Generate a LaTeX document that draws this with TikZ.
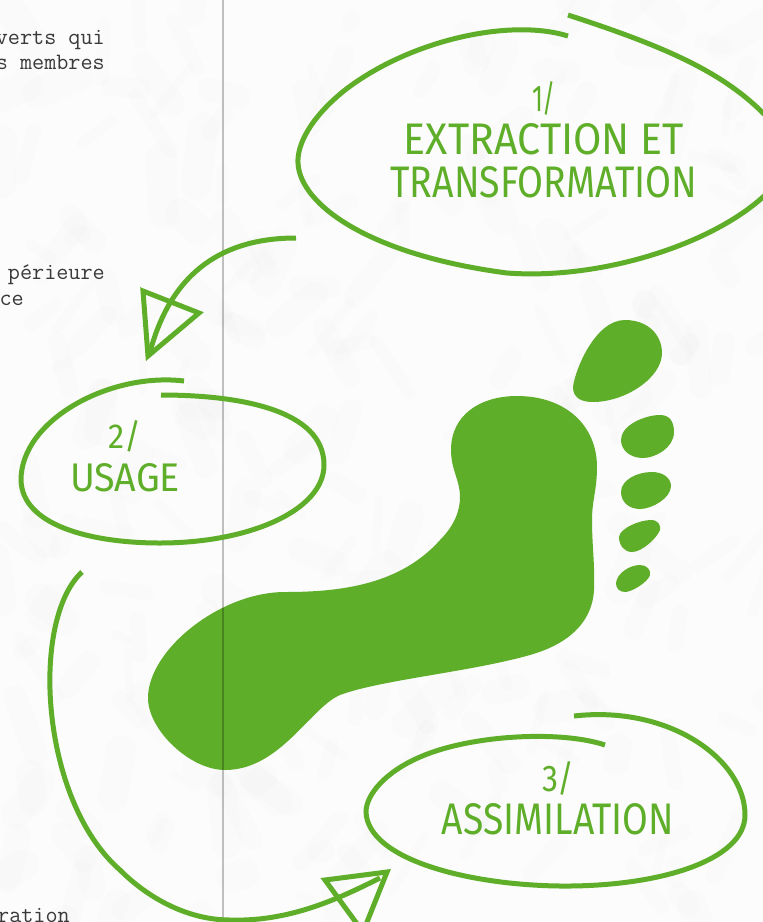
\documentclass[tikz,border=0pt]{standalone}
\usepackage{fontspec}
\newfontfamily\handfont{Fira Sans}
\definecolor{leaf}{HTML}{5FAE29}
\definecolor{ink}{HTML}{3A3A3A}
\tikzset{
  sketch/.style={draw=leaf,line width=5pt,line cap=butt,line join=miter},
  toe/.style={fill=leaf,draw=none},
  handlabel/.style={text=leaf,align=center,inner sep=0pt,font=\handfont\fontsize{30}{43}\selectfont},
  margintext/.style={text=ink,anchor=base east,inner sep=0pt,font=\ttfamily\fontsize{23.5}{25}\selectfont}
}
\newcommand{\hw}[3]{\resizebox{#1pt}{#2pt}{#3}}
\begin{document}
\begin{tikzpicture}[x=1pt,y=-1pt]
\useasboundingbox (0,0) rectangle (763,922);
\clip (0,0) rectangle (763,922);
\fill[black!1] (0,0) rectangle (763,922);
% paper texture
\pgfmathsetseed{42}
\foreach \i in {1,...,260}{
  \pgfmathsetmacro{\px}{random(0,763)}
  \pgfmathsetmacro{\py}{random(0,922)}
  \pgfmathsetmacro{\dx}{random(-40,40)}
  \pgfmathsetmacro{\dy}{random(-60,60)}
  \pgfmathsetmacro{\lw}{random(8,32)}
  \draw[black,opacity=0.008,line width=\lw pt,line cap=round] (\px,\py) -- ++(\dx,\dy);
}
% margin text
\node[margintext] (m1) at (105,44) {verts qui};
\node[margintext] (m2) at (105,69) {s membres};
\node[margintext] (m3) at (105,279) {périeure};
\node[margintext] (m4) at (24,305) {ce};
\node[margintext] (m5) at (70,922) {ration};
% foot
\fill[toe] (517,396) .. controls (565,396) and (597,425) .. (597,467)
  .. controls (597,490) and (592,500) .. (592,520)
  .. controls (592,545) and (595,565) .. (594,590)
  .. controls (592,625) and (565,645) .. (530,655)
  .. controls (470,672) and (380,680) .. (340,695)
  .. controls (310,708) and (280,770) .. (225,770)
  .. controls (190,770) and (148,730) .. (148,698)
  .. controls (148,650) and (220,592) .. (285,592)
  .. controls (340,592) and (400,585) .. (440,540)
  .. controls (455,525) and (460,510) .. (460,497)
  .. controls (460,480) and (451,470) .. (451,450)
  .. controls (451,415) and (480,396) .. (517,396) -- cycle;
\fill[toe] (573,387) .. controls (575,370) and (595,320) .. (625,320)
  .. controls (648,320) and (662,335) .. (662,353)
  .. controls (662,378) and (625,402) .. (593,402)
  .. controls (580,402) and (573,397) .. (573,387) -- cycle;
\fill[toe] (621,440) .. controls (621,425) and (645,415) .. (660,415)
  .. controls (670,415) and (674,422) .. (674,432)
  .. controls (674,448) and (655,458) .. (643,458)
  .. controls (630,458) and (621,450) .. (621,440) -- cycle;
\fill[toe] (621,492) .. controls (621,480) and (637,472) .. (652,472)
  .. controls (663,472) and (671,478) .. (671,486)
  .. controls (671,498) and (652,509) .. (640,509)
  .. controls (629,509) and (621,502) .. (621,492) -- cycle;
\fill[toe] (619,537) .. controls (620,528) and (640,520) .. (651,520)
  .. controls (658,520) and (661,525) .. (660,530)
  .. controls (657,538) and (642,552) .. (632,552)
  .. controls (624,552) and (619,545) .. (619,537) -- cycle;
\fill[toe] (616,583) .. controls (617,573) and (630,565) .. (640,565)
  .. controls (647,565) and (651,570) .. (650,575)
  .. controls (648,582) and (632,592) .. (625,592)
  .. controls (619,592) and (616,588) .. (616,583) -- cycle;
% fold line
\draw[black,opacity=0.24,line width=2pt] (223,0) -- (223,922);
% bubbles
\draw[sketch] (568,36) .. controls (510,18) and (410,40) .. (345,90)
  .. controls (310,118) and (297,145) .. (298,163)
  .. controls (300,205) and (370,255) .. (507,273)
  .. controls (600,280) and (710,245) .. (763,197)
  .. controls (800,165) and (795,140) .. (763,113)
  .. controls (720,70) and (660,45) .. (568,15);
\draw[sketch] (184,381) .. controls (110,372) and (21,420) .. (21,480)
  .. controls (22,525) and (90,543) .. (160,543)
  .. controls (250,543) and (324,510) .. (324,465)
  .. controls (324,410) and (240,395) .. (161,395);
\draw[sketch] (605,745) .. controls (560,730) and (470,735) .. (420,757)
  .. controls (385,772) and (366,795) .. (366,812)
  .. controls (368,860) and (470,885) .. (560,886)
  .. controls (660,887) and (745,860) .. (745,815)
  .. controls (745,760) and (670,705) .. (574,716);
% labels
\node[handlabel] (n1) at (544,140) {\hw{24}{30}{1/}\\\hw{280}{31}{EXTRACTION ET}\\\hw{307}{31}{TRANSFORMATION}};
\node[handlabel] (n2) at (125,456) {\hw{33}{28}{2/}\\\hw{110}{28}{USAGE}};
\node[handlabel] (n3) at (558,798) {\hw{32}{30}{3/}\\\hw{232}{31}{ASSIMILATION}};
% connectors
\coordinate (a1s) at (296,238);
\coordinate (a1e) at (150,352);
\coordinate (a2s) at (82,572);
\coordinate (a2m) at (230,920);
\coordinate (a2e) at (380,878);
\draw[sketch] (a1s) .. controls (225,238) and (172,270) .. (a1e);
\draw[sketch] (143,291) -- (199,313) -- (148,356) -- cycle;
\draw[sketch] (a2s) .. controls (30,620) and (40,800) .. (120,870) .. controls (150,900) and (190,920) .. (a2m) .. controls (290,922) and (340,898) .. (a2e);
\draw[sketch] (325,880) -- (387,872) -- (363,932) -- cycle;
\end{tikzpicture}
\end{document}
